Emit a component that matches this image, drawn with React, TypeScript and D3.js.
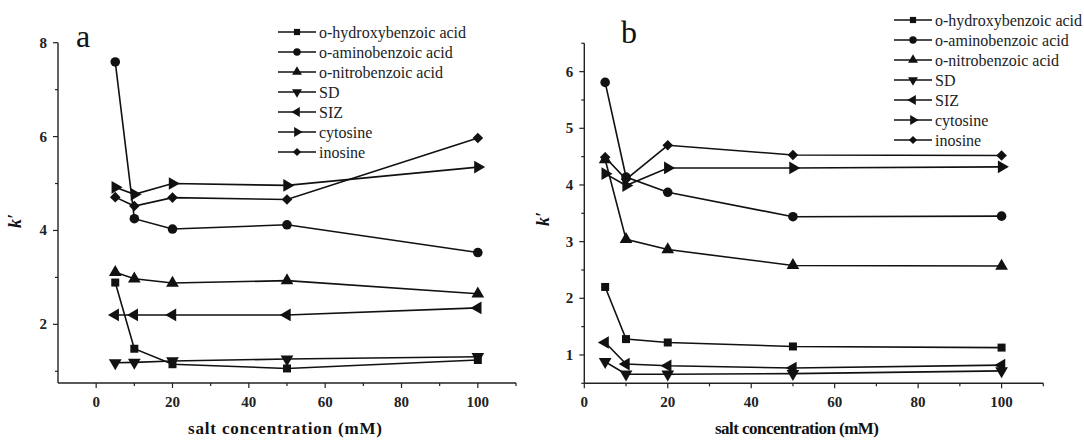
import React, { useEffect, useRef } from 'react';
import * as d3 from 'd3';

// salt concentration (mM)
const CONC = [5, 10, 20, 50, 100];

const SERIES_NAMES = [
  'o-hydroxybenzoic acid',
  'o-aminobenzoic acid',
  'o-nitrobenzoic acid',
  'SD',
  'SIZ',
  'cytosine',
  'inosine',
];

// panel a: k' values
const A_HYDROXY = [2.89, 1.48, 1.15, 1.06, 1.24];
const A_AMINO = [7.59, 4.25, 4.03, 4.12, 3.53];
const A_NITRO = [3.11, 2.97, 2.88, 2.93, 2.65];
const A_SD = [1.18, 1.19, 1.22, 1.26, 1.31];
const A_SIZ = [2.2, 2.2, 2.2, 2.2, 2.35];
const A_CYTOSINE = [4.92, 4.77, 5.0, 4.96, 5.35];
const A_INOSINE = [4.71, 4.52, 4.7, 4.66, 5.97];

// panel b: k' values
const B_HYDROXY = [2.2, 1.28, 1.22, 1.15, 1.13];
const B_AMINO = [5.81, 4.14, 3.87, 3.44, 3.45];
const B_NITRO = [4.45, 3.04, 2.86, 2.58, 2.57];
const B_SD = [0.88, 0.66, 0.66, 0.67, 0.72];
const B_SIZ = [1.22, 0.84, 0.81, 0.77, 0.82];
const B_CYTOSINE = [4.2, 3.99, 4.3, 4.3, 4.32];
const B_INOSINE = [4.49, 4.1, 4.7, 4.53, 4.52];

const X_TICKS = [0, 20, 40, 60, 80, 100];
const X_MINOR = [10, 30, 50, 70, 90, 110];
const A_Y_TICKS = [2, 4, 6, 8];
const A_Y_MINOR = [1, 3, 5, 7];
const B_Y_TICKS = [1, 2, 3, 4, 5, 6];
const B_Y_MINOR = [0.5, 1.5, 2.5, 3.5, 4.5, 5.5, 6.5];

const FONT = "'Liberation Serif', Tinos, 'Times New Roman', 'DejaVu Serif', serif";

// marker shape + rotation per series
const MARKERS: { type: d3.SymbolType; rotate: number; size: number }[] = [
  { type: d3.symbolSquare, rotate: 0, size: 64 },
  { type: d3.symbolCircle, rotate: 0, size: 72 },
  { type: d3.symbolTriangle, rotate: 0, size: 70 },
  { type: d3.symbolTriangle, rotate: 180, size: 70 },
  { type: d3.symbolTriangle, rotate: -90, size: 70 },
  { type: d3.symbolTriangle, rotate: 90, size: 70 },
  { type: d3.symbolSquare, rotate: 45, size: 56 },
];

interface PanelConfig {
  letter: string;
  letterPos: [number, number];
  series: number[][];
  xDomain: [number, number];
  xRange: [number, number];
  yDomain: [number, number];
  yRange: [number, number];
  yTicks: number[];
  yMinor: number[];
  legendX: number;
  legendY: number;
  titleX: number;
  titleWidth: number;
  kPos: [number, number];
}

const PANELS: PanelConfig[] = [
  {
    letter: 'a',
    letterPos: [76, 47],
    series: [A_HYDROXY, A_AMINO, A_NITRO, A_SD, A_SIZ, A_CYTOSINE, A_INOSINE],
    xDomain: [-10, 110],
    xRange: [58, 516],
    yDomain: [0.75, 8],
    yRange: [383, 42.7],
    yTicks: A_Y_TICKS,
    yMinor: A_Y_MINOR,
    legendX: 278,
    legendY: 32,
    titleX: 285,
    titleWidth: 194,
    kPos: [21, 221],
  },
  {
    letter: 'b',
    letterPos: [621, 43],
    series: [B_HYDROXY, B_AMINO, B_NITRO, B_SD, B_SIZ, B_CYTOSINE, B_INOSINE],
    xDomain: [0, 110],
    xRange: [584.3, 1043.3],
    yDomain: [0.5, 6.5],
    yRange: [383.3, 43.3],
    yTicks: B_Y_TICKS,
    yMinor: B_Y_MINOR,
    legendX: 894,
    legendY: 20,
    titleX: 797,
    titleWidth: 164,
    kPos: [549, 219],
  },
];

function symbolPath(i: number, scale = 1) {
  const m = MARKERS[i];
  return d3.symbol().type(m.type).size(m.size * scale)() as string;
}

const App: React.FC = () => {
  const svgRef = useRef<SVGSVGElement>(null);

  useEffect(() => {
    if (!svgRef.current) return;
    const svg = d3.select(svgRef.current);
    svg.selectAll('*').remove();

    svg.append('rect').attr('width', 1084).attr('height', 441).attr('fill', '#fff');

    PANELS.forEach((p) => {
      const x = d3.scaleLinear().domain(p.xDomain).range(p.xRange);
      const y = d3.scaleLinear().domain(p.yDomain).range(p.yRange);
      const g = svg.append('g').style('font-family', FONT);

      // axes lines
      g.append('line')
        .attr('x1', p.xRange[0]).attr('x2', p.xRange[0])
        .attr('y1', p.yRange[0]).attr('y2', p.yRange[1])
        .attr('stroke', '#222').attr('stroke-width', 1.4);
      g.append('line')
        .attr('x1', p.xRange[0]).attr('x2', p.xRange[1])
        .attr('y1', p.yRange[0]).attr('y2', p.yRange[0])
        .attr('stroke', '#222').attr('stroke-width', 1.4);

      // x ticks
      const y0 = p.yRange[0];
      X_TICKS.forEach((t) => {
        g.append('line')
          .attr('x1', x(t)).attr('x2', x(t))
          .attr('y1', y0).attr('y2', y0 + 5)
          .attr('stroke', '#222').attr('stroke-width', 1.2);
        g.append('text')
          .attr('x', x(t)).attr('y', y0 + 24)
          .attr('text-anchor', 'middle')
          .style('font-weight', 'bold')
          .style('font-size', '15px').attr('fill', '#222')
          .text(t);
      });
      X_MINOR.forEach((t) => {
        g.append('line')
          .attr('x1', x(t)).attr('x2', x(t))
          .attr('y1', y0).attr('y2', y0 + 3)
          .attr('stroke', '#222').attr('stroke-width', 1.2);
      });

      // y ticks
      const x0 = p.xRange[0];
      p.yTicks.forEach((t) => {
        g.append('line')
          .attr('x1', x0 - 5).attr('x2', x0)
          .attr('y1', y(t)).attr('y2', y(t))
          .attr('stroke', '#222').attr('stroke-width', 1.2);
        g.append('text')
          .attr('x', x0 - 11).attr('y', y(t) + 5)
          .attr('text-anchor', 'end')
          .style('font-weight', 'bold')
          .style('font-size', '15px').attr('fill', '#222')
          .text(t);
      });
      p.yMinor.forEach((t) => {
        g.append('line')
          .attr('x1', x0 - 3).attr('x2', x0)
          .attr('y1', y(t)).attr('y2', y(t))
          .attr('stroke', '#222').attr('stroke-width', 1.2);
      });

      // axis titles
      g.append('text')
        .attr('x', p.titleX).attr('y', 434)
        .attr('text-anchor', 'middle')
        .style('font-weight', 'bold')
        .style('font-size', '17px').attr('fill', '#111')
        .attr('textLength', p.titleWidth)
        .attr('lengthAdjust', 'spacing')
        .text('salt concentration (mM)');

      g.append('text')
        .attr('transform', `translate(${p.kPos[0]},${p.kPos[1]}) rotate(-90)`)
        .attr('text-anchor', 'middle')
        .style('font-weight', 'bold')
        .style('font-style', 'italic')
        .style('font-size', '18px').attr('fill', '#111')
        .text('k\u2032');

      // panel letter
      g.append('text')
        .attr('x', p.letterPos[0]).attr('y', p.letterPos[1])
        .style('font-size', '32px').attr('fill', '#111')
        .text(p.letter);

      // series lines + markers
      const line = d3.line<number>()
        .x((_, i) => x(CONC[i]))
        .y((d) => y(d));

      p.series.forEach((vals) => {
        g.append('path')
          .attr('d', line(vals) as string)
          .attr('fill', 'none')
          .attr('stroke', '#111')
          .attr('stroke-width', 1.6);
      });
      p.series.forEach((vals, si) => {
        vals.forEach((v, i) => {
          g.append('path')
            .attr('d', symbolPath(si))
            .attr('transform', `translate(${x(CONC[i])},${y(v)}) rotate(${MARKERS[si].rotate})`)
            .attr('fill', '#111');
        });
      });

      // legend
      const legend = g.append('g')
        .attr('transform', `translate(${p.legendX},${p.legendY})`);
      SERIES_NAMES.forEach((name, si) => {
        const row = legend.append('g').attr('transform', `translate(0,${si * 20})`);
        row.append('line')
          .attr('x1', 0).attr('x2', 38)
          .attr('y1', 0).attr('y2', 0)
          .attr('stroke', '#111').attr('stroke-width', 1.6);
        row.append('path')
          .attr('d', symbolPath(si, 0.6))
          .attr('transform', `translate(19,0) rotate(${MARKERS[si].rotate})`)
          .attr('fill', '#111');
        row.append('text')
          .attr('x', 41).attr('y', 5.5)
          .style('font-size', '16px').attr('fill', '#222')
          .text(name);
      });
    });
  }, []);

  return (
    <div style={{ position: 'absolute', left: 0, top: 0 }}>
      <svg ref={svgRef} width={1084} height={441} style={{ display: 'block' }} />
    </div>
  );
};

export default App;
